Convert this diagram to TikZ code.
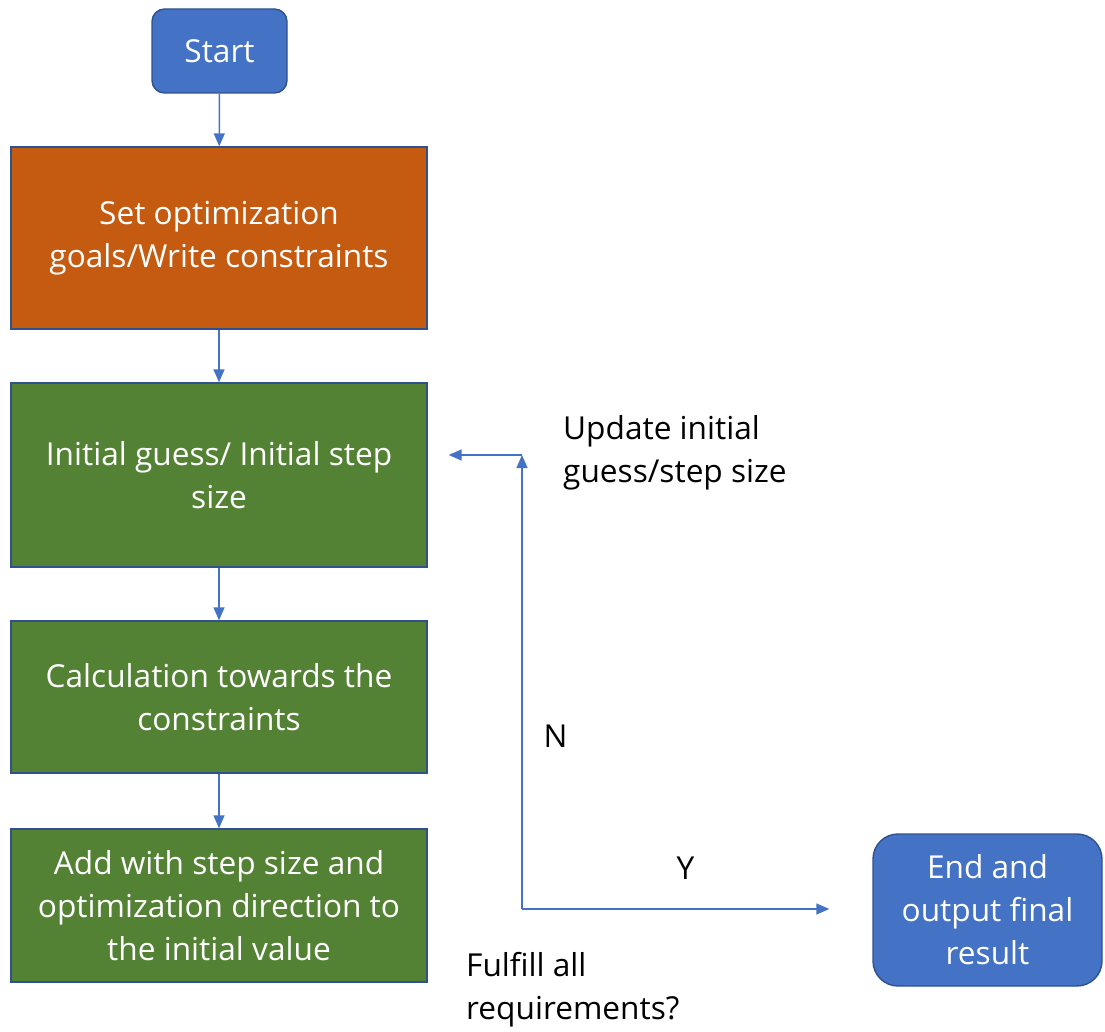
\documentclass[tikz,border=0pt]{standalone}
\usepackage{fontspec}
\setmainfont{Open Sans}
\usepackage{xcolor}
\usetikzlibrary{arrows.meta,positioning}
\definecolor{startblue}{HTML}{4472C4}
\definecolor{edgeblue}{HTML}{2F528F}
\definecolor{setorange}{HTML}{C55A11}
\definecolor{stepgreen}{HTML}{548235}

\begin{document}
\begin{tikzpicture}[>={Triangle[length=0.26cm,width=0.22cm]}]

\tikzset{block/.style={
  rectangle,
  inner sep=0pt,
  align=center,
  text=white,
  draw=edgeblue, line width=0.8pt,
  minimum width=83.2mm,
  font=\fontsize{18}{24.5}\selectfont
  },
  terminal/.style={
  block,
  rounded corners=2.5mm,
  fill=startblue
  },
  flow/.style={draw=startblue, line width=0.85pt},
  note/.style={align=left, font=\fontsize{18}{24.5}\selectfont}}

\useasboundingbox (0,0) rectangle (22.1,-20.64);

\node[terminal, minimum width=27mm, minimum height=16.8mm] (start) at (4.39,-1.02) {Start};
\node[block, fill=setorange, minimum height=36.4mm] (goals) at (4.38,-4.76) {Set optimization\\goals/Write constraints};
\node[block, fill=stepgreen, minimum height=36.8mm] (guess) at (4.38,-9.5) {Initial guess/ Initial step\\size};
\node[block, fill=stepgreen, minimum height=30.4mm] (calc) at (4.38,-13.94) {Calculation towards the\\constraints};
\node[block, fill=stepgreen, minimum height=30.6mm] (add) at (4.38,-18.11) {Add with step size and\\optimization direction to\\the initial value};
\node[terminal, rounded corners=5mm, minimum width=45.8mm, minimum height=30.4mm] (stop) at (19.75,-18.2) {End and\\output final\\result};

%\node[note] (q) at (9.3,-19.8) {};
\coordinate (check) at (10.44,-18.18);
\coordinate (back) at (10.44,-9.1);

\path[flow,->] (start) -- (goals);
\path[flow,->] (goals) -- (guess);
\path[flow,->] (guess) -- (calc);
\path[flow,->] (calc) -- (add);
\path[flow,->] (check) -- node[note, pos=0.38, right=0.3cm] {N} (back);
\path[flow,->,shorten >=0.42cm] (back) -- (back -| guess.east);
\path[flow,->,shorten >=0.86cm] (check) -- node[note, above=0.45cm, pos=0.467] {Y} (check -| stop.west);

\node[note, anchor=west] (update) at (11.14,-9.06) {Update initial\\guess/step size};
\node[note, anchor=west] (fulfill) at (9.2,-19.8) {Fulfill all\\requirements?};
\end{tikzpicture}
\end{document}
